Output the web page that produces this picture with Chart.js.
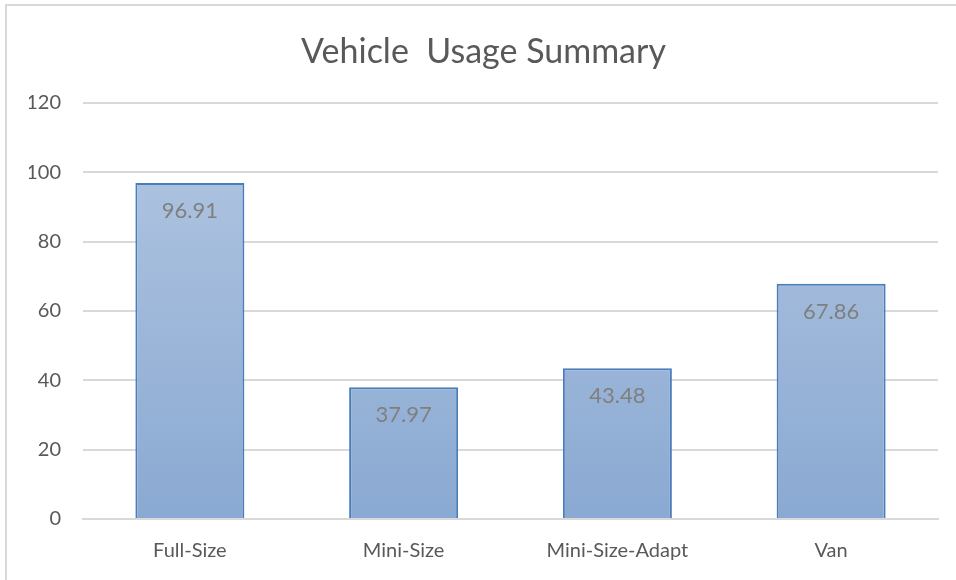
<!DOCTYPE html>
<html>
<head>
<meta charset="utf-8">
<script src="https://cdn.jsdelivr.net/npm/chart.js@4.4.1/dist/chart.umd.min.js"></script>
<style>
  html, body { margin: 0; padding: 0; background: #ffffff; }
  #wrap { width: 956px; height: 580px; position: relative; }
</style>
</head>
<body>
<div id="wrap"><canvas id="usageChart" width="956" height="580"></canvas></div>
<script>
const categories = ['Full-Size', 'Mini-Size', 'Mini-Size-Adapt', 'Van'];
const usageValues = [96.91, 37.97, 43.48, 67.86];
const yTicks = [0, 20, 40, 60, 80, 100, 120];

const FONT = "Lato, 'Open Sans', 'Liberation Sans', sans-serif";

// outer chart frame, like the office chart border
const frameBorder = {
    id: 'frameBorder',
    beforeDraw(chart) {
        const ctx = chart.ctx;
        ctx.save();
        ctx.strokeStyle = '#d9d9d9';
        ctx.lineWidth = 2;
        ctx.strokeRect(6, 5, chart.width + 10, chart.height + 10);
        ctx.restore();
    }
};

// value labels drawn inside the top of each bar
const barLabels = {
    id: 'barLabels',
    afterDatasetsDraw(chart) {
        const ctx = chart.ctx;
        const meta = chart.getDatasetMeta(0);
        ctx.save();
        ctx.font = '22px ' + FONT;
        ctx.fillStyle = '#7f7f7f';
        ctx.textAlign = 'center';
        ctx.textBaseline = 'middle';
        meta.data.forEach((bar, i) => {
            ctx.fillText(usageValues[i].toFixed(2), bar.x, bar.y + 28);
        });
        ctx.restore();
    }
};

function barGradient(context) {
    const chart = context.chart;
    const area = chart.chartArea;
    if (!area) return '#9db7da';
    const g = chart.ctx.createLinearGradient(0, area.top, 0, area.bottom);
    g.addColorStop(0, '#b3c7e2');
    g.addColorStop(1, '#8aa9d2');
    return g;
}

const ctx = document.getElementById('usageChart').getContext('2d');
const usageChart = new Chart(ctx, {
    type: 'bar',
    data: {
        labels: categories,
        datasets: [{
            data: usageValues,
            backgroundColor: barGradient,
            borderColor: '#4a7ebb',
            borderWidth: 2,
            borderSkipped: 'bottom',
            categoryPercentage: 1,
            barPercentage: 0.51
        }]
    },
    options: {
        responsive: false,
        animation: false,
        layout: { padding: { left: 29, right: 18, top: 0, bottom: 0 } },
        plugins: {
            legend: { display: false },
            tooltip: { enabled: false },
            title: {
                display: true,
                text: 'Vehicle  Usage Summary',
                color: '#595959',
                font: { family: FONT, size: 34, weight: 'normal' },
                padding: { top: 32, bottom: 30 }
            }
        },
        scales: {
            x: {
                afterFit(scale) { scale.height = 61; },
                grid: { display: false },
                border: { display: true, color: '#d9d9d9', width: 2 },
                ticks: {
                    color: '#595959',
                    font: { family: FONT, size: 20 },
                    padding: 12
                }
            },
            y: {
                min: 0,
                max: 120,
                afterBuildTicks(scale) {
                    scale.ticks = yTicks.map(v => ({ value: v }));
                },
                afterFit(scale) { scale.width = 54; },
                grid: { color: '#d9d9d9', lineWidth: 2, drawTicks: false },
                border: { display: false },
                ticks: {
                    color: '#595959',
                    font: { family: FONT, size: 20 },
                    padding: 22
                }
            }
        }
    },
    plugins: [frameBorder, barLabels]
});
</script>
</body>
</html>
